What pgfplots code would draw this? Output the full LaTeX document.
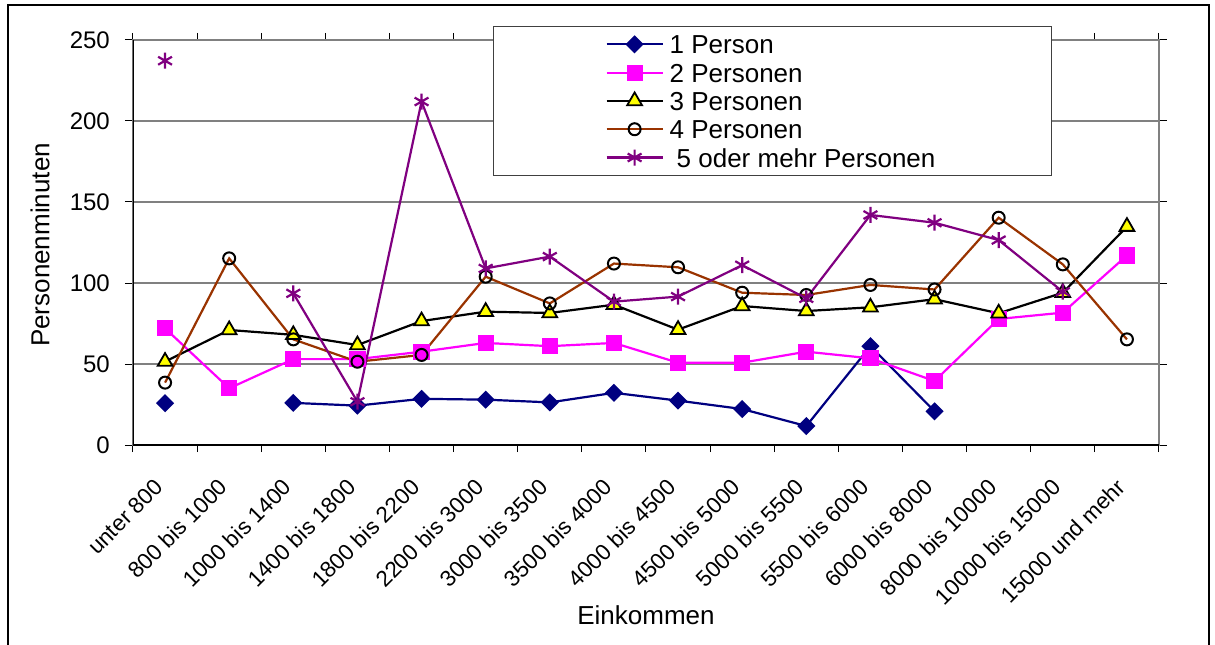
\documentclass[border=0pt]{standalone}
\usepackage{pgfplots}
\pgfplotsset{compat=1.18}
\usepackage{pgfplotstable}
\usepackage{fontspec}
\setmainfont{Liberation Sans}
\definecolor{cNavy}{HTML}{000080}
\definecolor{cMag}{HTML}{FF00FF}
\definecolor{cYel}{HTML}{FFFF00}
\definecolor{cBrown}{HTML}{993300}
\definecolor{cPurp}{HTML}{800080}
\definecolor{cGrid}{HTML}{808080}
\pgfplotstableread{
x p1 p2 p3 p4 p5
0 25.8 72 51.5 38.5 237.2
1 nan 35 71 115.2 nan
2 26 53 68 65.2 93.6
3 24.3 53 61.7 51.4 26.7
4 28.5 57.6 76.5 55.6 212
5 28 63 82.3 103.9 109
6 26.3 61 81.5 87.4 116.3
7 32.2 63 86.6 112 88.5
8 27.4 50.8 71.2 109.7 91.6
9 22.2 50.8 85.8 94 111
10 11.7 57.6 82.7 92.6 90.5
11 61 53.5 85 98.8 142
12 20.8 39.5 90 96 137.2
13 nan 77.8 81.3 140.3 126.5
14 nan 81.7 94 111.5 94.6
15 nan 117 134.8 65.2 nan
}\datatable
\begin{document}
\begin{tikzpicture}
\useasboundingbox (-133bp,-200bp) rectangle (1082bp,445bp);
\draw[black, line width=1.5bp] (-125bp,-210bp) rectangle (1076bp,440bp);
\begin{axis}[
  scale only axis,
  width=1026bp, height=405bp,
  xmin=-0.5, xmax=15.5, ymin=0, ymax=250,
  unbounded coords=jump,
  xtick={0,...,15},
  xticklabels={unter 800,800 bis 1000,1000 bis 1400,1400 bis 1800,1800 bis 2200,2200 bis 3000,3000 bis 3500,3500 bis 4000,4000 bis 4500,4500 bis 5000,5000 bis 5500,5500 bis 6000,6000 bis 8000,8000 bis 10000,10000 bis 15000,15000 und mehr},
  minor xtick={-0.5,0.5,...,15.5},
  ytick={0,50,...,250},
  tick align=outside,
  x tick style={draw=none},
  minor x tick style={draw=black, line width=1bp},
  minor tick length=7bp,
  y tick style={draw=black, line width=1bp},
  major tick length=8bp,
  ymajorgrids,
  major grid style={cGrid, line width=1.5bp},
  axis line style={cGrid, line width=1.5bp},
  /pgf/number format/assume math mode=true,
  x tick label style={xshift=-6bp, yshift=-30bp, rotate=45, anchor=east, inner sep=0pt,
     font=\fontsize{22.5bp}{26bp}\selectfont},
  y tick label style={anchor=east, inner sep=0pt, xshift=-15bp,
     font=\fontsize{24bp}{28bp}\selectfont},
  xlabel={Einkommen},
  ylabel={Personenminuten},
  xlabel style={at={(axis description cs:0.5,-0.42)}, anchor=center, font=\fontsize{26bp}{30bp}\selectfont},
  ylabel style={at={(axis description cs:-0.0906,0.494)}, anchor=center, rotate=0, font=\fontsize{26bp}{30bp}\selectfont},
  legend cell align=left,
  legend style={at={(axis description cs:0.351,1.035)}, anchor=north west,
     draw=black!75, line width=1bp, fill=white,
     inner xsep=0pt, inner ysep=8.5bp, row sep=9.3bp, column sep=6bp,
     font=\fontsize{26bp}{30bp}\selectfont,
     nodes={inner sep=0pt, text height=19bp, text depth=0bp}},
  legend image code/.code={%
     \path[draw=none, fill=none] (-113bp,-9.5bp) rectangle (56bp,9.5bp);
     \draw[mark repeat=2,mark phase=2,#1] plot coordinates {(0bp,0bp) (28bp,0bp) (56bp,0bp)};},
]
\addplot[cNavy, line width=2.2bp, mark=square*, mark size=5.3bp, mark options={rotate=45, solid, fill=cNavy, draw=cNavy}] table[x=x, y=p1] {\datatable};
\addlegendentry{\makebox[382bp][l]{1 Person}}
\addplot[cMag, line width=2.2bp, mark=square*, mark size=7bp, mark options={solid, fill=cMag, draw=cMag}] table[x=x, y=p2] {\datatable};
\addlegendentry{2 Personen}
\addplot[black, line width=2.2bp, mark=triangle*, mark size=8.5bp, mark options={solid, fill=cYel, draw=black, line width=1.8bp}] table[x=x, y=p3] {\datatable};
\addlegendentry{3 Personen}
\addplot[cBrown, line width=2.2bp, mark=o, mark size=6bp, mark options={solid, draw=black, line width=2bp}] table[x=x, y=p4] {\datatable};
\addlegendentry{4 Personen}
\addplot[cPurp, line width=2.2bp, mark=asterisk, mark size=8bp, mark options={solid, draw=cPurp, line width=2.2bp}] table[x=x, y=p5] {\datatable};
\addlegendentry{\hspace{7bp}5 oder mehr Personen}
\draw[black, line width=1.5bp] (rel axis cs:0,1) -- (rel axis cs:0,0) -- (rel axis cs:1,0);
\end{axis}
\end{tikzpicture}
\end{document}
